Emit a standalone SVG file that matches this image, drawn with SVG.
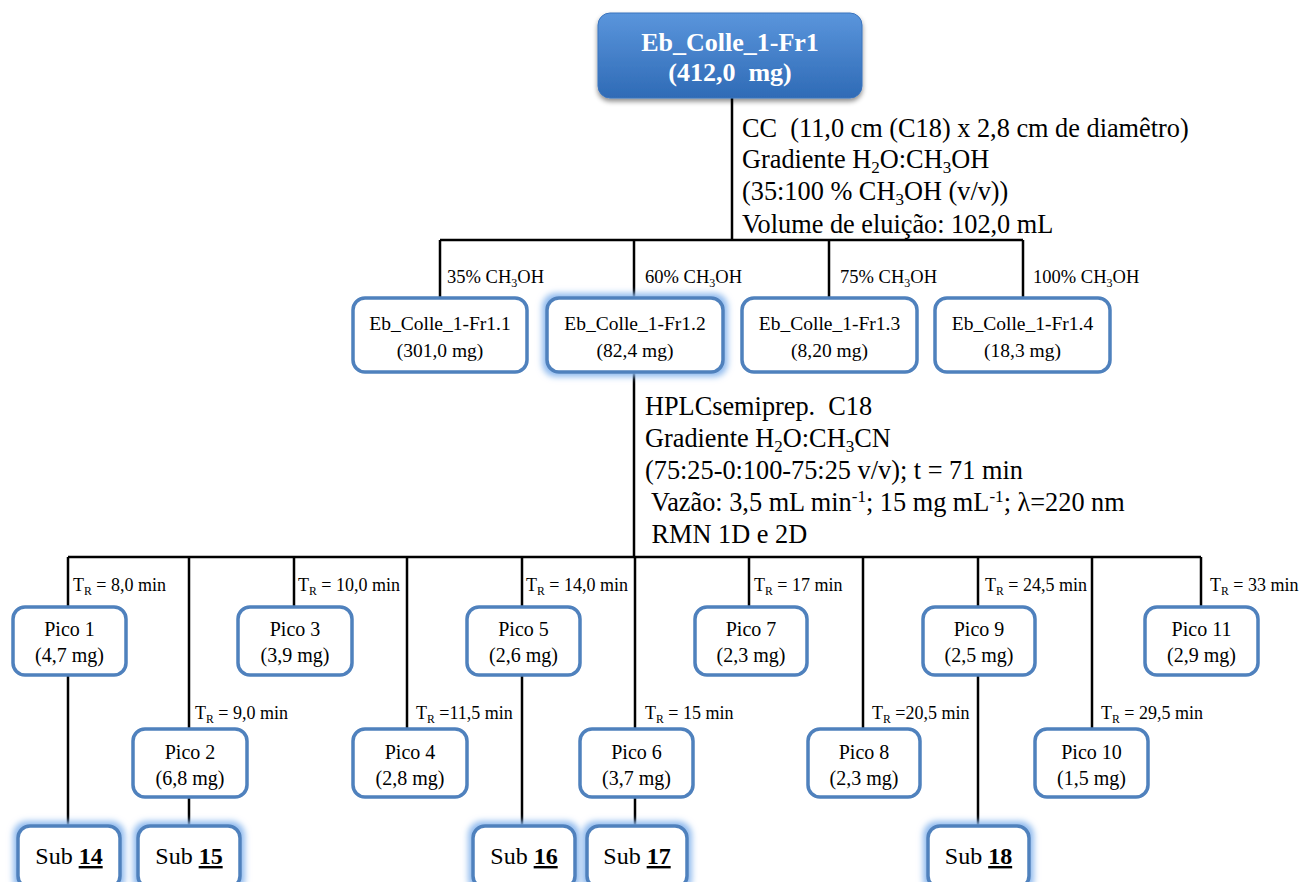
<svg xmlns="http://www.w3.org/2000/svg" width="1303" height="882" viewBox="0 0 1303 882">
<defs>
<linearGradient id="topg" x1="0" y1="0" x2="0" y2="1">
<stop offset="0" stop-color="#5a95dc"/>
<stop offset="1" stop-color="#2f6bb6"/>
</linearGradient>
<filter id="shadow" x="-10%" y="-20%" width="120%" height="150%">
<feGaussianBlur in="SourceAlpha" stdDeviation="2.5" result="b"/>
<feOffset in="b" dx="0" dy="3" result="o"/>
<feFlood flood-color="#000" flood-opacity="0.45"/>
<feComposite in2="o" operator="in" result="s"/>
<feMerge><feMergeNode in="s"/><feMergeNode in="SourceGraphic"/></feMerge>
</filter>
<filter id="glow" x="-20%" y="-30%" width="140%" height="160%">
<feMorphology in="SourceAlpha" operator="dilate" radius="3" result="d"/>
<feGaussianBlur in="d" stdDeviation="3" result="b"/>
<feFlood flood-color="#8db9ee"/>
<feComposite in2="b" operator="in" result="g"/>
<feMerge><feMergeNode in="g"/><feMergeNode in="SourceGraphic"/></feMerge>
</filter>
</defs>
<style>
text{font-family:"Liberation Serif","Times New Roman",serif;fill:#000;white-space:pre}
.box{fill:#fff;stroke:#4f81bd;stroke-width:3.5}
.glow{filter:url(#glow)}
.ln{stroke:#000;stroke-width:2.5;fill:none}
.top{font-size:26px;font-weight:bold;fill:#fff;text-anchor:middle}
.fr{font-size:19.5px;text-anchor:middle}
.pk{font-size:20px;text-anchor:middle}
.lb{font-size:18.5px}
.tr{font-size:18px}
.info{font-size:26.3px}
.sub{font-size:24px;text-anchor:middle}
.sb{font-weight:bold;text-decoration:underline}
.s{font-size:65%}
</style>

<g id="connectors">
<path class="ln" d="M732 98V240M440 240H1023M440 240V298M634 240V298M829 240V298M1023 240V298"/>
<path class="ln" d="M634 372V557M68 557H1201"/>
<path class="ln" d="M68 557V607M294 557V607M522 557V607M749 557V607M978 557V607M1201 557V607"/>
<path class="ln" d="M189 557V729M407 557V729M635 557V729M863 557V729M1092 557V729"/>
<path class="ln" d="M68 675V826M189 797V826M522 675V826M635 797V826M978 675V826"/>
</g>

<g id="n-top">
<rect x="598" y="13" width="264" height="85" rx="12" fill="url(#topg)" stroke="#3b74bd" stroke-width="1" filter="url(#shadow)"/>
<text class="top" x="730" y="51">Eb_Colle_1-Fr1</text>
<text class="top" x="730" y="81">(412,0  mg)</text>
</g>

<g id="cc-info">
<text class="info" x="742" y="137">CC  (11,0 cm (C18) x 2,8 cm de diamêtro)</text>
<text class="info" x="742" y="168">Gradiente H<tspan class="s" dy="5">2</tspan><tspan dy="-5">O:CH</tspan><tspan class="s" dy="5">3</tspan><tspan dy="-5">OH</tspan></text>
<text class="info" x="742" y="200">(35:100 % CH<tspan class="s" dy="5">3</tspan><tspan dy="-5">OH (v/v))</tspan></text>
<text class="info" x="742" y="233">Volume de eluição: 102,0 mL</text>
</g>

<g id="frac-labels">
<text class="lb" x="447" y="283">35% CH<tspan class="s" dy="4">3</tspan><tspan dy="-4">OH</tspan></text>
<text class="lb" x="645" y="283">60% CH<tspan class="s" dy="4">3</tspan><tspan dy="-4">OH</tspan></text>
<text class="lb" x="840" y="283">75% CH<tspan class="s" dy="4">3</tspan><tspan dy="-4">OH</tspan></text>
<text class="lb" x="1033" y="283">100% CH<tspan class="s" dy="4">3</tspan><tspan dy="-4">OH</tspan></text>
</g>

<g id="n-fr11">
<rect class="box" x="353" y="298" width="174" height="74" rx="12"/>
<text class="fr" x="440" y="330">Eb_Colle_1-Fr1.1</text>
<text class="fr" x="440" y="357">(301,0 mg)</text>
</g>
<g id="n-fr12">
<rect class="box glow" x="547" y="298" width="176" height="74" rx="12"/>
<text class="fr" x="635" y="330">Eb_Colle_1-Fr1.2</text>
<text class="fr" x="635" y="357">(82,4 mg)</text>
</g>
<g id="n-fr13">
<rect class="box" x="742" y="298" width="175" height="74" rx="12"/>
<text class="fr" x="829.5" y="330">Eb_Colle_1-Fr1.3</text>
<text class="fr" x="829.5" y="357">(8,20 mg)</text>
</g>
<g id="n-fr14">
<rect class="box" x="935" y="298" width="175" height="74" rx="12"/>
<text class="fr" x="1022.5" y="330">Eb_Colle_1-Fr1.4</text>
<text class="fr" x="1022.5" y="357">(18,3 mg)</text>
</g>

<g id="hplc-info">
<text class="info" x="645" y="415">HPLCsemiprep.  C18</text>
<text class="info" x="645" y="447">Gradiente H<tspan class="s" dy="5">2</tspan><tspan dy="-5">O:CH</tspan><tspan class="s" dy="5">3</tspan><tspan dy="-5">CN</tspan></text>
<text class="info" x="645" y="479">(75:25-0:100-75:25 v/v); t = 71 min</text>
<text class="info" x="645" y="511"> Vazão: 3,5 mL min<tspan class="s" dy="-9">-1</tspan><tspan dy="9">; 15 mg mL</tspan><tspan class="s" dy="-9">-1</tspan><tspan dy="9">; λ=220 nm</tspan></text>
<text class="info" x="645" y="543"> RMN 1D e 2D</text>
</g>

<g id="tr-labels">
<text class="tr" x="73" y="591">T<tspan class="s" dy="4">R</tspan><tspan dy="-4"> = 8,0 min</tspan></text>
<text class="tr" x="298" y="591">T<tspan class="s" dy="4">R</tspan><tspan dy="-4"> = 10,0 min</tspan></text>
<text class="tr" x="526" y="591">T<tspan class="s" dy="4">R</tspan><tspan dy="-4"> = 14,0 min</tspan></text>
<text class="tr" x="754" y="591">T<tspan class="s" dy="4">R</tspan><tspan dy="-4"> = 17 min</tspan></text>
<text class="tr" x="985" y="591">T<tspan class="s" dy="4">R</tspan><tspan dy="-4"> = 24,5 min</tspan></text>
<text class="tr" x="1210" y="591">T<tspan class="s" dy="4">R</tspan><tspan dy="-4"> = 33 min</tspan></text>
<text class="tr" x="195" y="719">T<tspan class="s" dy="4">R</tspan><tspan dy="-4"> = 9,0 min</tspan></text>
<text class="tr" x="416" y="719">T<tspan class="s" dy="4">R</tspan><tspan dy="-4"> =11,5 min</tspan></text>
<text class="tr" x="645" y="719">T<tspan class="s" dy="4">R</tspan><tspan dy="-4"> = 15 min</tspan></text>
<text class="tr" x="872" y="719">T<tspan class="s" dy="4">R</tspan><tspan dy="-4"> =20,5 min</tspan></text>
<text class="tr" x="1101" y="719">T<tspan class="s" dy="4">R</tspan><tspan dy="-4"> = 29,5 min</tspan></text>
</g>

<g id="n-pico1"><rect class="box" x="13" y="607" width="113" height="68" rx="12"/><text class="pk" x="69.5" y="636">Pico 1</text><text class="pk" x="69.5" y="662">(4,7 mg)</text></g>
<g id="n-pico3"><rect class="box" x="238" y="607" width="114" height="68" rx="12"/><text class="pk" x="295" y="636">Pico 3</text><text class="pk" x="295" y="662">(3,9 mg)</text></g>
<g id="n-pico5"><rect class="box" x="467" y="607" width="113" height="68" rx="12"/><text class="pk" x="523.5" y="636">Pico 5</text><text class="pk" x="523.5" y="662">(2,6 mg)</text></g>
<g id="n-pico7"><rect class="box" x="695" y="607" width="112" height="68" rx="12"/><text class="pk" x="751" y="636">Pico 7</text><text class="pk" x="751" y="662">(2,3 mg)</text></g>
<g id="n-pico9"><rect class="box" x="923" y="607" width="112" height="68" rx="12"/><text class="pk" x="979" y="636">Pico 9</text><text class="pk" x="979" y="662">(2,5 mg)</text></g>
<g id="n-pico11"><rect class="box" x="1145" y="607" width="113" height="68" rx="12"/><text class="pk" x="1201.5" y="636">Pico 11</text><text class="pk" x="1201.5" y="662">(2,9 mg)</text></g>

<g id="n-pico2"><rect class="box" x="133" y="729" width="114" height="68" rx="12"/><text class="pk" x="190" y="759">Pico 2</text><text class="pk" x="190" y="785">(6,8 mg)</text></g>
<g id="n-pico4"><rect class="box" x="353" y="729" width="114" height="68" rx="12"/><text class="pk" x="410" y="759">Pico 4</text><text class="pk" x="410" y="785">(2,8 mg)</text></g>
<g id="n-pico6"><rect class="box" x="580" y="729" width="113" height="68" rx="12"/><text class="pk" x="636.5" y="759">Pico 6</text><text class="pk" x="636.5" y="785">(3,7 mg)</text></g>
<g id="n-pico8"><rect class="box" x="808" y="729" width="112" height="68" rx="12"/><text class="pk" x="864" y="759">Pico 8</text><text class="pk" x="864" y="785">(2,3 mg)</text></g>
<g id="n-pico10"><rect class="box" x="1035" y="729" width="113" height="68" rx="12"/><text class="pk" x="1091.5" y="759">Pico 10</text><text class="pk" x="1091.5" y="785">(1,5 mg)</text></g>

<g id="n-sub14"><rect class="box glow" x="18" y="826" width="102" height="62" rx="12"/><text class="sub" x="69" y="864">Sub <tspan class="sb">14</tspan></text></g>
<g id="n-sub15"><rect class="box glow" x="138" y="826" width="102" height="62" rx="12"/><text class="sub" x="189" y="864">Sub <tspan class="sb">15</tspan></text></g>
<g id="n-sub16"><rect class="box glow" x="473" y="826" width="102" height="62" rx="12"/><text class="sub" x="524" y="864">Sub <tspan class="sb">16</tspan></text></g>
<g id="n-sub17"><rect class="box glow" x="587" y="826" width="100" height="62" rx="12"/><text class="sub" x="637" y="864">Sub <tspan class="sb">17</tspan></text></g>
<g id="n-sub18"><rect class="box glow" x="928" y="826" width="101" height="62" rx="12"/><text class="sub" x="978.5" y="864">Sub <tspan class="sb">18</tspan></text></g>
</svg>
